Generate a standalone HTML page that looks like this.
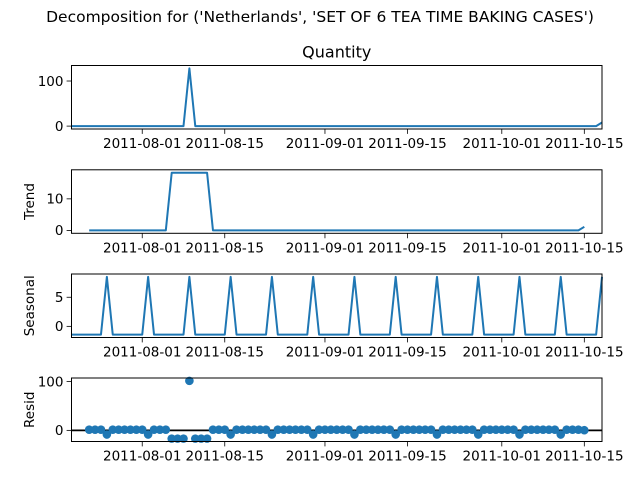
<!DOCTYPE html>
<html><head><meta charset="utf-8"><style>
body{margin:0;background:#fff}
svg{display:block;font-family:"DejaVu Sans","Liberation Sans",sans-serif}
</style></head><body>
<svg id="fig" width="640" height="480" viewBox="0 0 640 480">
<rect width="640" height="480" fill="#fff"/>
<text x="320" y="22" font-size="15.5" text-anchor="middle">Decomposition for ('Netherlands', 'SET OF 6 TEA TIME BAKING CASES')</text>
<g id="plots"></g>
</svg>
<script>
const startDate = "2011-07-20";
const quantity = [0,0,0,0,0,0,0,0,0,0, 0,0,0,0,0,0,0,0,0,0, 128,0,0,0,0,0,0,0,0,0, 0,0,0,0,0,0,0,0,0,0, 0,0,0,0,0,0,0,0,0,0, 0,0,0,0,0,0,0,0,0,0, 0,0,0,0,0,0,0,0,0,0, 0,0,0,0,0,0,0,0,0,0, 0,0,0,0,0,0,0,0,0,0, 8];
const trend = [null,null,null,0,0,0,0,0,0,0, 0,0,0,0,0,0,0,18.29,18.29,18.29, 18.29,18.29,18.29,18.29,0,0,0,0,0,0, 0,0,0,0,0,0,0,0,0,0, 0,0,0,0,0,0,0,0,0,0, 0,0,0,0,0,0,0,0,0,0, 0,0,0,0,0,0,0,0,0,0, 0,0,0,0,0,0,0,0,0,0, 0,0,0,0,0,0,0,1.14,null,null, null];
const seasonal = [-1.42,-1.42,-1.42,-1.42,-1.42,-1.42,8.5,-1.42,-1.42,-1.42, -1.42,-1.42,-1.42,8.5,-1.42,-1.42,-1.42,-1.42,-1.42,-1.42, 8.5,-1.42,-1.42,-1.42,-1.42,-1.42,-1.42,8.5,-1.42,-1.42, -1.42,-1.42,-1.42,-1.42,8.5,-1.42,-1.42,-1.42,-1.42,-1.42, -1.42,8.5,-1.42,-1.42,-1.42,-1.42,-1.42,-1.42,8.5,-1.42, -1.42,-1.42,-1.42,-1.42,-1.42,8.5,-1.42,-1.42,-1.42,-1.42, -1.42,-1.42,8.5,-1.42,-1.42,-1.42,-1.42,-1.42,-1.42,8.5, -1.42,-1.42,-1.42,-1.42,-1.42,-1.42,8.5,-1.42,-1.42,-1.42, -1.42,-1.42,-1.42,8.5,-1.42,-1.42,-1.42,-1.42,-1.42,-1.42, 8.5];
const resid = [null,null,null,1.42,1.42,1.42,-8.5,1.42,1.42,1.42, 1.42,1.42,1.42,-8.5,1.42,1.42,1.42,-16.87,-16.87,-16.87, 101.2,-16.87,-16.87,-16.87,1.42,1.42,1.42,-8.5,1.42,1.42, 1.42,1.42,1.42,1.42,-8.5,1.42,1.42,1.42,1.42,1.42, 1.42,-8.5,1.42,1.42,1.42,1.42,1.42,1.42,-8.5,1.42, 1.42,1.42,1.42,1.42,1.42,-8.5,1.42,1.42,1.42,1.42, 1.42,1.42,-8.5,1.42,1.42,1.42,1.42,1.42,1.42,-8.5, 1.42,1.42,1.42,1.42,1.42,1.42,-8.5,1.42,1.42,1.42, 1.42,1.42,1.42,-8.5,1.42,1.42,1.42,0.28,null,null, null];
const xTickLabels = ["2011-08-01","2011-08-15","2011-09-01","2011-09-15","2011-10-01","2011-10-15"];
const quantityTicks = [0,100];
const trendTicks = [0,10];
const seasonalTicks = [0,5];
const residTicks = [0,100];

const NS="http://www.w3.org/2000/svg";
const root=document.getElementById('plots');
const L=71.5, R=602, H=63.5;
const DAY=86400000;
const t0=Date.parse(startDate+"T00:00:00Z");
const nDays=quantity.length-1;
function xScale(d){return L+(d/nDays)*(R-L);}
function dayOf(s){return (Date.parse(s+"T00:00:00Z")-t0)/DAY;}
function mk(tag,attrs,parent){const e=document.createElementNS(NS,tag);for(const k in attrs)e.setAttribute(k,attrs[k]);parent.appendChild(e);return e;}

function panel(name,top,vals,ticks,ylabel,title,scatter){
  const g=mk('g',{},root);
  
  
  const nn=vals.filter(v=>v!==null);
  const mn=Math.min(...nn), mx=Math.max(...nn), m=(mx-mn)*0.05||1;
  const y0=mn-m, y1=mx+m, B=top+H;
  const yScale=v=>B-(v-y0)/(y1-y0)*H;
  if(scatter){
    const zl=mk('line',{x1:L,x2:R,y1:yScale(0),y2:yScale(0),stroke:'#000','stroke-width':1.8},g);
    
    
    vals.forEach((v,i)=>{ if(v===null)return;
      const c=mk('circle',{cx:xScale(i),cy:yScale(v),r:4.3,fill:'#1f77b4'},g);
      
      
    });
  } else {
    let d='',pen=false;
    vals.forEach((v,i)=>{ if(v===null){pen=false;return;}
      d+=(pen?'L':'M')+xScale(i).toFixed(2)+','+yScale(v).toFixed(2);pen=true;});
    const p=mk('path',{d:d,fill:'none',stroke:'#1f77b4','stroke-width':2,'stroke-linejoin':'round'},g);
    
    
  }
  const fr=mk('rect',{x:L,y:top,width:R-L,height:H,fill:'none',stroke:'#000','stroke-width':1},g);
  
  
  ticks.forEach(t=>{
    const y=yScale(t);
    mk('line',{x1:L-4.9,x2:L,y1:y,y2:y,stroke:'#000','stroke-width':0.8},g);
    const tx=mk('text',{x:L-8,y:y+4.8,'font-size':13.5,'text-anchor':'end'},g);
    tx.textContent=t;
    
    
  });
  xTickLabels.forEach(s=>{
    const x=xScale(dayOf(s));
    mk('line',{x1:x,x2:x,y1:B,y2:B+4.9,stroke:'#000','stroke-width':0.8},g);
    const tx=mk('text',{x:x,y:B+19,'font-size':13.5,'text-anchor':'middle'},g);
    tx.textContent=s;
    
    
  });
  if(ylabel){
    const yl=mk('text',{x:0,y:0,'font-size':13.5,'text-anchor':'middle',transform:'translate(34,'+(top+H/2)+') rotate(-90)'},g);
    yl.textContent=ylabel;
    
    
  }
  if(title){
    const tt=mk('text',{x:(L+R)/2,y:top-8,'font-size':16,'text-anchor':'middle'},g);
    tt.textContent=title;
    
    
  }
}
panel('quantity',65.5,quantity,quantityTicks,null,'Quantity',false);
panel('trend',169.8,trend,trendTicks,'Trend',null,false);
panel('seasonal',274,seasonal,seasonalTicks,'Seasonal',null,false);
panel('resid',378,resid,residTicks,'Resid',null,true);
</script>
</body></html>
